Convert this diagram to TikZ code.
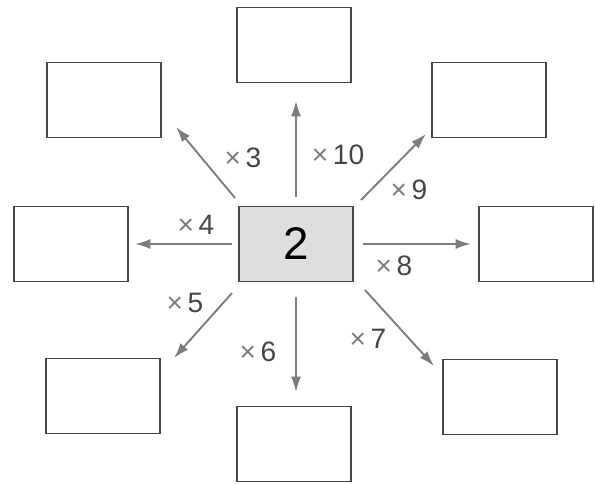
\documentclass[tikz,border=0pt]{standalone}
\usepackage{fontspec}
\setmainfont{Liberation Sans}
\usetikzlibrary{positioning,arrows.meta}

\definecolor{arrowgray}{RGB}{125,125,125}
\definecolor{linegray}{RGB}{70,70,70}
\definecolor{fillgray}{RGB}{222,222,222}

\begin{document}
\begin{tikzpicture}[x=0.03cm,y=-0.03cm,
    ansbox/.style={rectangle,draw=linegray,line width=0.9pt,fill=white,
		minimum width=3.42cm,minimum height=2.25cm,inner sep=0pt},
    numbox/.style={ansbox,fill=fillgray,font=\fontsize{39}{39}\selectfont},
% times labels
    times/.style={font=\fontsize{24}{24}\selectfont,text=linegray,inner sep=0pt},
    multarrow/.style={draw=arrowgray,line width=1.6pt,
		-{Latex[length=4.6mm,width=3mm]}}
    ]
   \useasboundingbox (0,0) rectangle (595,484);
%%% start box and answer boxes
   \node [numbox] (two) at (296,244) {2};
   \node [ansbox] (b10) at (294,45)  {};
   \node [ansbox] (b3)  at (104,100) {};
   \node [ansbox] (b9)  at (489,100) {};
   \node [ansbox] (b4)  at (71,244)  {};
   \node [ansbox] (b8)  at (536,244) {};
   \node [ansbox] (b5)  at (103,396) {};
   \node [ansbox] (b6)  at (294,444) {};
   \node [ansbox] (b7)  at (500,397) {};

%%% arrow ends
   \coordinate (s10) at (296,197); \coordinate (e10) at (296,101);
   \coordinate (s3)  at (235,198); \coordinate (e3)  at (176,127);
   \coordinate (s9)  at (361,200); \coordinate (e9)  at (426,134);
   \coordinate (s4)  at (232,244); \coordinate (e4)  at (135,244);
   \coordinate (s8)  at (363,244); \coordinate (e8)  at (471,244);
   \coordinate (s5)  at (232,293); \coordinate (e5)  at (174,358);
   \coordinate (s6)  at (296,297); \coordinate (e6)  at (296,392);
   \coordinate (s7)  at (365,290); \coordinate (e7)  at (434,366);

   \foreach \n in {10,3,9,4,8,5,6,7}
      \draw [multarrow] (s\n) -- (e\n);

%%% labels
   \node [times] (l3)  at (243,158) {{\color{arrowgray}×}\,3};
   \node [times] (l10) at (338,155) {{\color{arrowgray}×}\,10};
   \node [times] (l9)  at (409,190) {{\color{arrowgray}×}\,9};
   \node [times] (l4)  at (196,225) {{\color{arrowgray}×}\,4};
   \node [times] (l8)  at (394,266) {{\color{arrowgray}×}\,8};
   \node [times] (l5)  at (185,303) {{\color{arrowgray}×}\,5};
   \node [times] (l6)  at (258,352) {{\color{arrowgray}×}\,6};
   \node [times] (l7)  at (368,339) {{\color{arrowgray}×}\,7};
\end{tikzpicture}
\end{document}
